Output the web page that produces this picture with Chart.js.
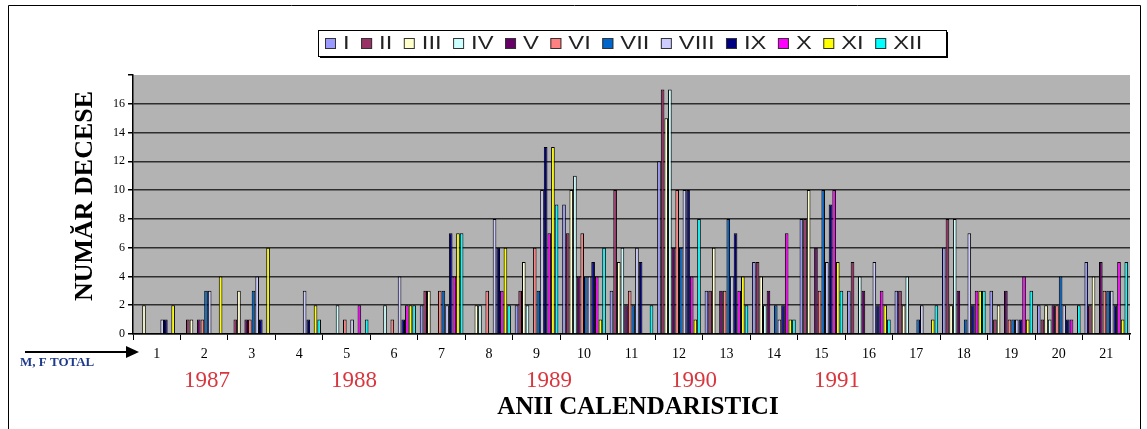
<!DOCTYPE html>
<html><head><meta charset="utf-8">
<script src="https://cdn.jsdelivr.net/npm/chart.js@4/dist/chart.umd.min.js"></script>
<style>html,body{margin:0;padding:0;background:#fff;}</style>
</head><body>
<canvas id="c" width="1147" height="429"></canvas>
<script>
// ---- data ----
const categories = ['1','2','3','4','5','6','7','8','9','10','11','12','13','14','15','16','17','18','19','20','21'];
const months = ['I','II','III','IV','V','VI','VII','VIII','IX','X','XI','XII'];
const monthColors = ['#9999FF','#993366','#FFFFCC','#CCFFFF','#660066','#FF8080','#0066CC','#CCCCFF','#000080','#FF00FF','#FFFF00','#00FFFF'];
const sI    = [0,0,0,0,0,0,2,0,2,9,3,12,3,5,8,3,3,6,3,2,5];
const sII   = [0,1,1,0,0,0,3,0,3,7,10,17,3,5,8,5,3,8,1,1,2];
const sIII  = [2,1,3,0,0,0,3,2,5,10,5,15,6,4,10,0,2,2,2,2,4];
const sIV   = [0,0,0,0,2,2,0,2,2,11,6,17,0,2,0,4,4,8,0,1,0];
const sV    = [0,1,1,0,0,0,0,0,0,4,2,6,3,3,6,3,0,3,3,2,5];
const sVI   = [0,1,1,0,1,1,3,3,6,7,3,10,3,0,3,0,0,0,1,2,3];
const sVII  = [0,3,3,0,0,0,3,0,3,4,2,6,8,2,10,0,1,1,1,4,3];
const sVIII = [1,3,4,3,1,4,2,8,10,4,6,10,4,1,5,5,2,7,1,2,3];
const sIX   = [1,0,1,1,0,1,7,6,13,5,5,10,7,2,9,2,0,2,1,1,2];
const sX    = [0,0,0,0,2,2,4,3,7,4,0,4,3,7,10,3,0,3,4,1,5];
const sXI   = [2,4,6,2,0,2,7,6,13,1,0,1,4,1,5,2,1,3,1,0,1];
const sXII  = [0,0,0,1,1,2,7,2,9,6,2,8,2,1,3,1,2,3,3,2,5];
const seriesValues = [sI,sII,sIII,sIV,sV,sVI,sVII,sVIII,sIX,sX,sXI,sXII];
const yTicks = [0,2,4,6,8,10,12,14,16];
const yearLabels = ['1987','1988','1989','1990','1991'];
const yAxisTitle = 'NUMĂR DECESE';
const xAxisTitle = 'ANII CALENDARISTICI';
const rowLabel = 'M, F TOTAL';

// ---- decorations plugin ----
const deco = {
  id:'deco',
  beforeDraw(chart){
    const {ctx, chartArea:a} = chart;
    ctx.save();
    ctx.fillStyle = '#fff';
    ctx.fillRect(0,0,chart.width,chart.height);
    ctx.fillStyle = '#b3b3b3';
    ctx.fillRect(a.left, a.top, a.right-a.left, a.bottom-a.top);
    ctx.restore();
  },
  afterDraw(chart){
    const {ctx, chartArea:a} = chart;
    ctx.save();
    // outer frame
    ctx.strokeStyle = '#000'; ctx.lineWidth = 1;
    ctx.beginPath();
    ctx.moveTo(8.5,429); ctx.lineTo(8.5,5.5); ctx.lineTo(1140.5,5.5); ctx.lineTo(1140.5,429);
    ctx.stroke();
    // legend box
    const lx=318, ly=30, lw=628, lh=26;
    ctx.fillStyle='#000'; ctx.fillRect(lx+2, ly+2, lw, lh);
    ctx.fillStyle='#fff'; ctx.fillRect(lx, ly, lw, lh);
    ctx.strokeStyle='#000'; ctx.lineWidth=1; ctx.strokeRect(lx+0.5, ly+0.5, lw, lh);
    let x = 325;
    const sx = 1.25;
    ctx.font = '19px "Liberation Sans", Arial, sans-serif';
    ctx.textBaseline='middle'; ctx.textAlign='left';
    months.forEach((m,i)=>{
      ctx.fillStyle = monthColors[i];
      ctx.fillRect(x, 38, 11, 11);
      ctx.strokeStyle='#333'; ctx.strokeRect(x+0.5, 38.5, 10, 10);
      const tw = ctx.measureText(m).width*sx;
      ctx.save(); ctx.translate(x+18, 44); ctx.scale(sx,1);
      ctx.fillStyle='#222'; ctx.fillText(m,0,0); ctx.restore();
      x += 18 + tw + 11.5;
    });
    // y title
    ctx.save();
    ctx.translate(85, 196); ctx.rotate(-Math.PI/2);
    ctx.font='bold 26px "Liberation Serif", "Times New Roman", serif';
    ctx.fillStyle='#000'; ctx.textAlign='center'; ctx.textBaseline='middle';
    ctx.fillText(yAxisTitle,0,0);
    ctx.restore();
    // row label + arrow
    ctx.font='bold 13px "Liberation Serif", serif';
    ctx.fillStyle='#1f3a8a'; ctx.textAlign='left'; ctx.textBaseline='middle';
    ctx.fillText(rowLabel, 20, 363);
    ctx.strokeStyle='#000'; ctx.lineWidth=2;
    ctx.beginPath(); ctx.moveTo(25,352); ctx.lineTo(128,352); ctx.stroke();
    ctx.fillStyle='#000';
    ctx.beginPath(); ctx.moveTo(139,352); ctx.lineTo(126,346); ctx.lineTo(126,358); ctx.closePath(); ctx.fill();
    // years
    const yearX = [207, 354, 549, 694, 837];
    ctx.font='23px "Liberation Serif", serif';
    ctx.fillStyle='#d9363e'; ctx.textAlign='center';
    yearLabels.forEach((t,i)=>ctx.fillText(t, yearX[i], 381));
    // x title
    ctx.font='bold 25px "Liberation Serif", serif';
    ctx.fillStyle='#000';
    ctx.fillText(xAxisTitle, 638, 408);
    ctx.restore();
  }
};

new Chart(document.getElementById('c'), {
  type:'bar',
  data:{
    labels: categories,
    datasets: months.map((m,i)=>({
      label:m, data:seriesValues[i], backgroundColor:monthColors[i],
      borderColor:'#000', borderWidth:1, borderSkipped:'start',
      categoryPercentage:0.92, barPercentage:1.0
    }))
  },
  options:{
    responsive:false, animation:false, devicePixelRatio:1,
    layout:{padding:{left:0, top:75, right:17, bottom:60}},
    plugins:{legend:{display:false}, tooltip:{enabled:false}, title:{display:false}},
    scales:{
      x:{
        grid:{display:true, drawOnChartArea:false, drawTicks:true, tickLength:6, color:'#000', offset:true},
        border:{display:true, color:'#000', width:1.5},
        ticks:{color:'#000', padding:6, maxRotation:0, autoSkip:false,
               font:{family:'"Liberation Serif", serif', size:14}},
        afterFit(s){ s.height = 35; }
      },
      y:{
        min:0, max:18,
        afterBuildTicks(s){ s.ticks = yTicks.concat([18]).map(v=>({value:v})); },
        grid:{color:(c)=> c.tick && c.tick.value===18 ? 'rgba(0,0,0,0)' : '#2e2e2e', lineWidth:1.5, drawTicks:true, tickLength:5, tickColor:'#000'},
        border:{display:true, color:'#000', width:1.5},
        ticks:{color:'#000', padding:3, callback:(v)=> v===18 ? '' : String(v),
               font:{family:'"Liberation Serif", serif', size:12}},
        afterFit(s){ s.width = 133; }
      }
    }
  },
  plugins:[deco]
});
</script>
</body></html>
